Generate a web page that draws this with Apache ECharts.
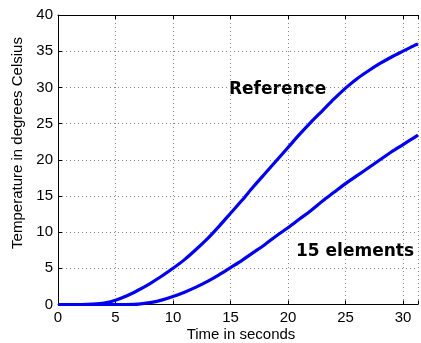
<!DOCTYPE html>
<html>
<head>
<meta charset="utf-8">
<script src="https://cdn.jsdelivr.net/npm/echarts@6/dist/echarts.min.js"></script>
<style>
html,body{margin:0;padding:0;background:#fff;}
#chart{width:421px;height:343px;}
</style>
</head>
<body>
<div id="chart"></div>
<script>
var timeSeconds = [0,1,2,3,4,5,6,7,8,9,10,11,12,13,14,15,16,17,18,19,20,21,22,23,24,25,26,27,28,29,30,31,31.3];
var referenceTemp = [0,0,0,0.05,0.2,0.6,1.2,2.0,2.9,3.9,5.0,6.2,7.6,9.1,10.8,12.6,14.4,16.3,18.1,19.9,21.7,23.5,25.2,26.8,28.4,29.9,31.2,32.3,33.3,34.2,35.0,35.8,36.0];
var elements15Temp = [0,0,0,0,0,0,0,0.05,0.25,0.6,1.1,1.7,2.4,3.2,4.1,5.1,6.1,7.2,8.3,9.5,10.6,11.8,13.0,14.3,15.5,16.7,17.8,18.9,20.0,21.1,22.1,23.1,23.4];
var xTicks = [0,5,10,15,20,25,30];
var yTicks = [0,5,10,15,20,25,30,35,40];

function pairs(xs, ys){ return xs.map(function(x,i){ return [x, ys[i]]; }); }

var chart = echarts.init(document.getElementById('chart'));
var tickFont = {fontFamily:'Liberation Sans', fontSize:15, color:'#000'};
chart.setOption({
  animation:false,
  grid:{left:58, top:15, right:0, bottom:38.5, containLabel:false},
  xAxis:[{
    type:'value', min:0, max:31.3, interval:5,
    axisLine:{lineStyle:{color:'#000', width:1}},
    axisTick:{inside:true, length:4, lineStyle:{color:'#000'}},
    axisLabel:Object.assign({margin:6, formatter:function(v){ return xTicks.indexOf(v) >= 0 ? String(v) : ''; }}, tickFont),
    splitLine:{show:true, lineStyle:{color:'#888', type:[1,3], width:1}}
  },{
    type:'value', position:'top', min:0, max:31.3, interval:5,
    axisLine:{lineStyle:{color:'#000', width:1}},
    axisTick:{inside:true, length:4, lineStyle:{color:'#000'}},
    axisLabel:{show:false},
    splitLine:{show:false}
  }],
  yAxis:{
    type:'value', min:0, max:40, interval:5,
    axisLine:{show:true, lineStyle:{color:'#000', width:1}},
    axisTick:{show:true, inside:true, length:4, lineStyle:{color:'#000'}},
    axisLabel:Object.assign({margin:5, formatter:function(v){ return yTicks.indexOf(v) >= 0 ? String(v) : ''; }}, tickFont),
    splitLine:{show:true, lineStyle:{color:'#888', type:[1,3], width:1}}
  },
  series:[{
    name:'Reference', type:'line', data:pairs(timeSeconds, referenceTemp),
    smooth:0.3, showSymbol:false, clip:true,
    lineStyle:{color:'#0000f0', width:3.2}
  },{
    name:'15 elements', type:'line', data:pairs(timeSeconds, elements15Temp),
    smooth:0.3, showSymbol:false, clip:true,
    lineStyle:{color:'#0000f0', width:3.2}
  }],
  graphic:[
    {type:'text', left:229, top:81, style:{text:'Reference', font:'bold 17px "DejaVu Sans"', fill:'#000'}},
    {type:'text', left:296, top:243, style:{text:'15 elements', font:'bold 17px "DejaVu Sans"', fill:'#000'}},
    {type:'text', x:241, y:335, style:{text:'Time in seconds', font:'15px "Liberation Sans"', fill:'#000', align:'center', verticalAlign:'middle'}},
    {type:'text', x:18, y:143, rotation:Math.PI/2, style:{text:'Temperature in degrees Celsius', font:'15px "Liberation Sans"', fill:'#000', align:'center', verticalAlign:'middle'}}
  ]
});
</script>
</body>
</html>
